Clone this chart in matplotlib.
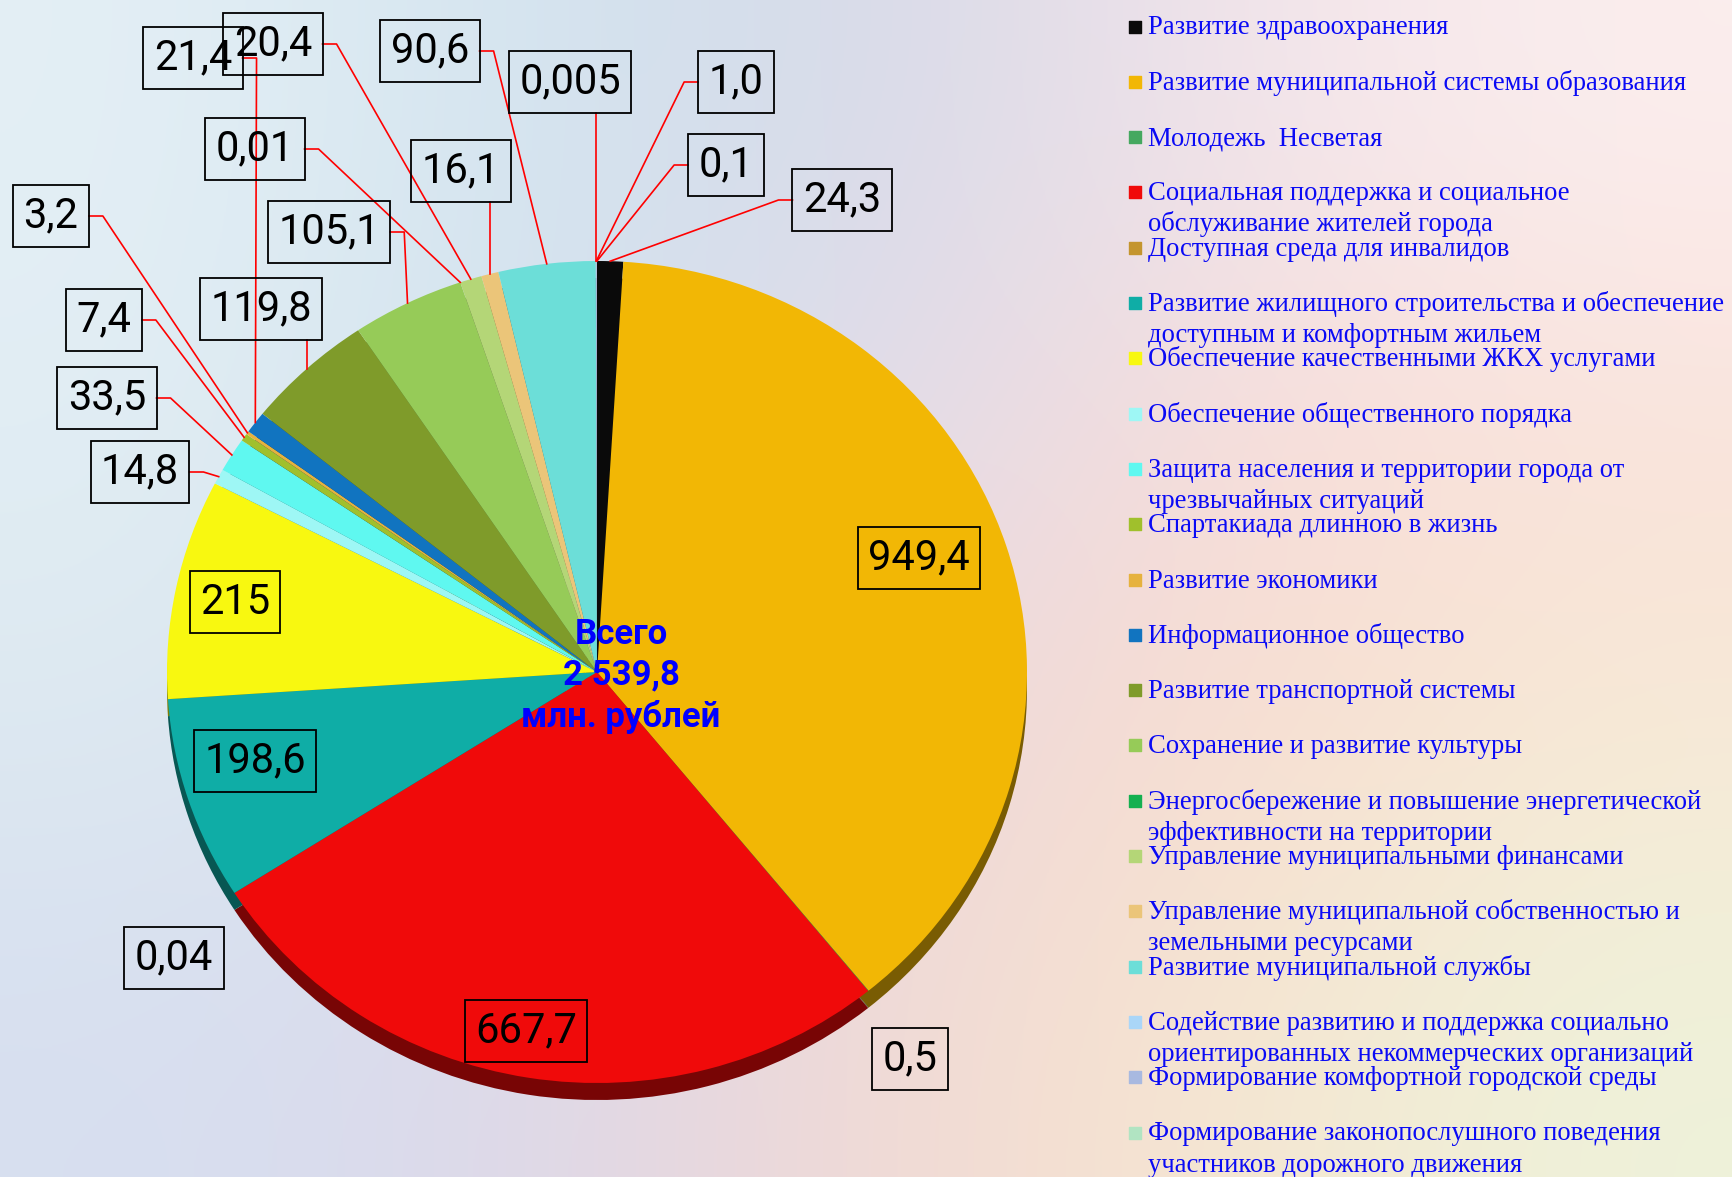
import numpy as np
import matplotlib
matplotlib.use("Agg")
import matplotlib.pyplot as plt
from matplotlib.colors import to_rgb

W, H = 1733, 1177

# --- data -------------------------------------------------------------
programs = [
    "Развитие здравоохранения",
    "Развитие муниципальной системы образования",
    "Молодежь  Несветая",
    "Социальная поддержка и социальное\nобслуживание жителей города",
    "Доступная среда для инвалидов",
    "Развитие жилищного строительства и обеспечение\nдоступным и комфортным жильем",
    "Обеспечение качественными ЖКХ услугами",
    "Обеспечение общественного порядка",
    "Защита населения и территории города от\nчрезвычайных ситуаций",
    "Спартакиада длинною в жизнь",
    "Развитие экономики",
    "Информационное общество",
    "Развитие транспортной системы",
    "Сохранение и развитие культуры",
    "Энергосбережение и повышение энергетической\nэффективности на территории",
    "Управление муниципальными финансами",
    "Управление муниципальной собственностью и\nземельными ресурсами",
    "Развитие муниципальной службы",
    "Содействие развитию и поддержка социально\nориентированных некоммерческих организаций",
    "Формирование комфортной городской среды",
    "Формирование законопослушного поведения\nучастников дорожного движения",
]
values = [24.3, 949.4, 0.5, 667.7, 0.04, 198.6, 215, 14.8, 33.5, 7.4, 3.2,
          21.4, 119.8, 105.1, 0.01, 20.4, 16.1, 90.6, 0.005, 1.0, 0.1]
value_labels = ["24,3", "949,4", "0,5", "667,7", "0,04", "198,6", "215",
                "14,8", "33,5", "7,4", "3,2", "21,4", "119,8", "105,1",
                "0,01", "20,4", "16,1", "90,6", "0,005", "1,0", "0,1"]
total_text = "Всего\n2 539,8\nмлн. рублей"

# --- styles / layout --------------------------------------------------
colors = ["#0a0a0a", "#f2b705", "#45a860", "#f00a0a", "#c4952e", "#0fada6",
          "#f8f810", "#9ef7f5", "#5ff8f0", "#a0c02c", "#e6b23e", "#1174c0",
          "#7f9b2a", "#96cb58", "#14b050", "#b4d677", "#ebc579", "#6cded8",
          "#aad6f8", "#a8b9e0", "#b1e4c2"]
# box centres (pixels) and leader style of each value label
label_pos = [(842, 200), (919, 558), (910, 1059), (526, 1031), (174, 958),
             (255, 761), (235, 602), (140, 472), (107, 398), (104, 320),
             (51, 216), (193, 58), (261, 309), (329, 232), (255, 149),
             (273, 44), (461, 171), (430, 51), (570, 82), (736, 82), (726, 165)]
leader = ["left", None, None, None, None, None, None, "right", "right", "right",
          "right", "right", "bottom", "right", "right", "right", "bottom",
          "right", "bottom", "left", "left"]

sans = ["Roboto", "DejaVu Sans"]
serif = ["Liberation Serif", "DejaVu Serif"]

fig = plt.figure(figsize=(W / 100, H / 100), dpi=100)

# background wash
bg_rows = [["#e4eff5", "#d3e5f0", "#d5d9e8", "#f1e3ea", "#fbeeee"],
           ["#e2eef4", "#d0e2ee", "#e2dcec", "#f8dcd8", "#fae2da"],
           ["#dde9f1", "#d9e0ee", "#eed8dc", "#f8dccf", "#f7ead6"],
           ["#d7dff0", "#dcd8ea", "#f2d8d4", "#f6e6d0", "#eef2da"]]
grid = np.array([[to_rgb(c) for c in row] for row in bg_rows])
bg = fig.add_axes([0, 0, 1, 1])
bg.imshow(grid, extent=[0, W, H, 0], interpolation="bicubic", aspect="auto")
bg.axis("off")

# pie (slightly squashed, with a dark rim underneath)
cx, cy, rx, ry = 597, 672, 430, 411
rim = fig.add_axes([(cx - rx) / W, 1 - (cy + ry + 17) / H, 2 * rx / W, 2 * ry / H])
ax = fig.add_axes([(cx - rx) / W, 1 - (cy + ry) / H, 2 * rx / W, 2 * ry / H])
dark = [tuple(0.5 * np.array(to_rgb(c))) for c in colors]
rim.pie(values, colors=dark, startangle=90, counterclock=False)
wedges, _ = ax.pie(values, colors=colors, startangle=90, counterclock=False)
for a in (rim, ax):
    a.set_aspect("auto")
    a.set_xlim(-1, 1)
    a.set_ylim(-1, 1)
    a.axis("off")

ov = fig.add_axes([0, 0, 1, 1])
ov.set_xlim(0, W)
ov.set_ylim(H, 0)
ov.axis("off")
ov.patch.set_alpha(0)

ov.text(621, 676, total_text, ha="center", va="center", color="#0000ff",
        fontsize=25, fontweight="bold", family=sans, linespacing=1.3)

texts = []
for lab, (x, y) in zip(value_labels, label_pos):
    t = ov.text(x, y, lab, ha="center", va="center", fontsize=30, family=sans,
                color="black", zorder=6,
                bbox=dict(boxstyle="square,pad=0.25", fc="none", ec="black", lw=1.3))
    texts.append(t)

fig.canvas.draw()
renderer = fig.canvas.get_renderer()
for w, t, kind in zip(wedges, texts, leader):
    if kind is None:
        continue
    ang = np.deg2rad((w.theta1 + w.theta2) / 2)
    dx, dy = ax.transData.transform((np.cos(ang), np.sin(ang)))
    ex, ey = dx, H - dy
    bb = t.get_bbox_patch().get_window_extent(renderer)
    x0, x1 = bb.x0, bb.x1
    ytop, ybot = H - bb.y1, H - bb.y0
    ymid = (ytop + ybot) / 2
    if kind == "right":
        xs, ys = [x1, x1 + 14, ex], [ymid, ymid, ey]
    elif kind == "left":
        xs, ys = [x0, x0 - 14, ex], [ymid, ymid, ey]
    else:
        xs, ys = [ex, ex], [ybot, ey]
    ov.plot(xs, ys, color="red", lw=1.2, zorder=4)

# legend
for i, (name, c) in enumerate(zip(programs, colors)):
    y = 26.5 + 55.3 * i
    ov.scatter([1135], [y], marker="s", s=70, color=c, zorder=6)
    for k, line in enumerate(name.split("\n")):
        ov.text(1148, y + 8 + 31 * k, line, ha="left", va="baseline",
                fontsize=19.2, family=serif, color="#0a0af5")

fig.savefig("out.png", dpi=100)
